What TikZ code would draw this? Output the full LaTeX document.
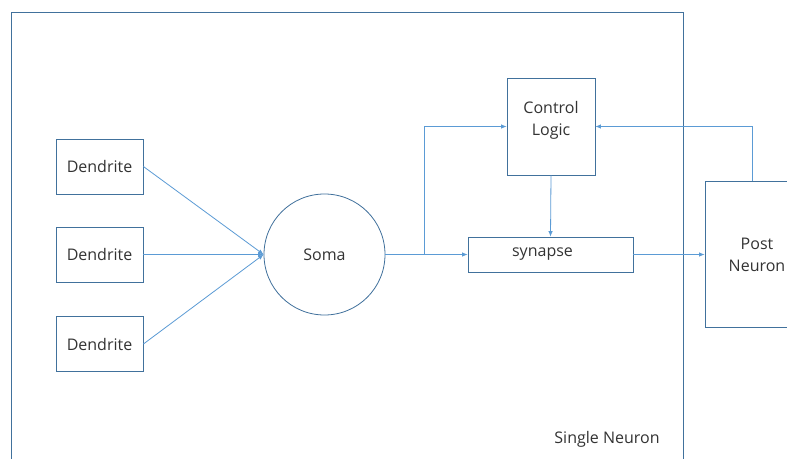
\documentclass[tikz,border=0pt]{standalone}
\usepackage{fontspec}
\setmainfont{Open Sans}
\usetikzlibrary{arrows.meta}
\definecolor{frameblue}{HTML}{41719C}
\definecolor{linkblue}{HTML}{5B9BD5}
\definecolor{txt}{HTML}{333333}
\begin{document}
\begin{tikzpicture}[x=1pt,y=-1pt,
  box/.style={draw=frameblue,line width=0.8pt,fill=white,text=txt,font=\fontsize{16}{22}\selectfont,align=center,inner sep=0pt},
  link/.style={draw=linkblue,line width=0.8pt,-{Latex[length=5.5pt,width=4.5pt]}}]
\useasboundingbox (0,0) rectangle (787,458);
\clip (0,0) rectangle (787,458);
\fill[white] (0,0) rectangle (787,458);
% outer frame
\draw[frameblue,line width=0.9pt] (11,460) -- (11,12) -- (683,12) -- (683,460);
\node[text=txt,font=\fontsize{16}{22}\selectfont] (label) at (607,439) {Single Neuron};
% dendrites
\node[box,minimum width=87pt,minimum height=55pt] (d1) at (99.5,166.5) {Dendrite};
\node[box,minimum width=87pt,minimum height=55pt] (d2) at (99.5,254.5) {Dendrite};
\node[box,minimum width=87pt,minimum height=55pt] (d3) at (99.5,344) {Dendrite};
% soma
\node[box,circle,minimum size=121pt] (soma) at (324.5,254.5) {Soma};
% control logic
\node[box,minimum width=88pt,minimum height=97pt] (ctrl) at (551,126.5) {Control\\Logic\rule[-17pt]{0pt}{0pt}};
% synapse
\node[box,minimum width=165pt,minimum height=35pt] (syn) at (550.5,254.5) {\hspace*{-16pt}synapse};
% post neuron
\node[box,minimum width=104pt,minimum height=146pt] (post) at (757,254.5) {Post\\Neuron};
% connectors
\draw[link] (d1.east) -- (soma.west);
\draw[link] (d2.east) -- (soma.west);
\draw[link] (d3.east) -- (soma.west);
\coordinate (br) at (424,254.5);
\draw[link] (soma.east) -- (syn.west);
\draw[link] (br) |- (ctrl.west);
\draw[link] (ctrl.south) -- (syn.north);
\draw[link] (syn.east) -- (post.west);
\draw[link] ([xshift=-5pt]post.north) |- (ctrl.east);
\end{tikzpicture}
\end{document}
